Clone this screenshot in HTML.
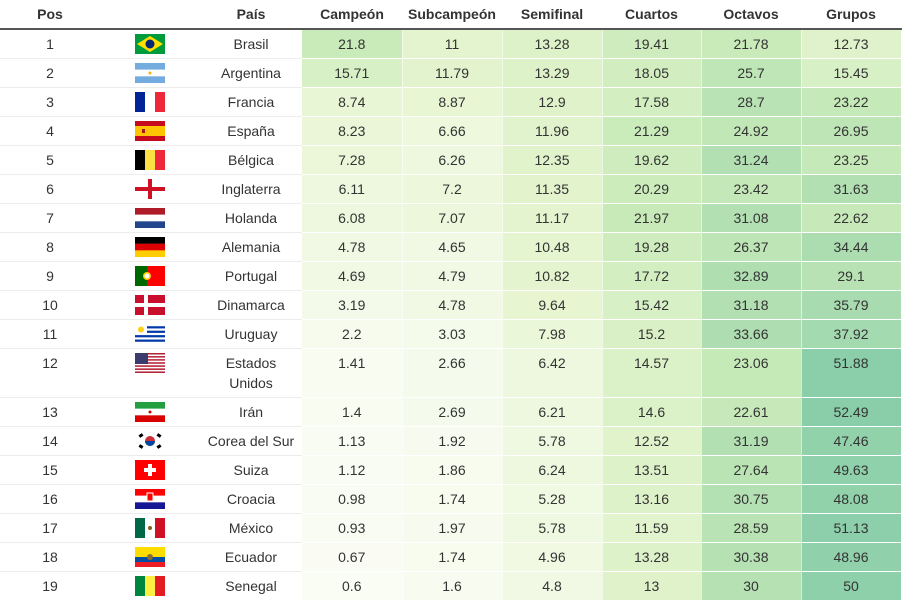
<!DOCTYPE html>
<html><head><meta charset="utf-8">
<style>
body{margin:0;background:#fff;font-family:"Liberation Sans",Arial,sans-serif;color:#333;font-size:14px;overflow:hidden;}
table{border-collapse:collapse;width:901px;table-layout:fixed;}
th{font-weight:bold;height:28px;padding:0;border-bottom:2px solid #555;text-align:center;vertical-align:middle;}
td{text-align:center;vertical-align:top;padding:4px 2px 4px;line-height:20px;border-top:1px solid #ececec;}
td.c{border-top:1px solid #fff;border-right:1px solid rgba(255,255,255,0.6);}
td.f{padding:4px 0 0;line-height:0;}
svg.flag{display:inline-block;}
</style></head><body>
<table>
<colgroup><col style="width:100px"><col style="width:100px"><col style="width:102px"><col style="width:100px"><col style="width:100px"><col style="width:100px"><col style="width:99px"><col style="width:100px"><col style="width:100px"></colgroup>
<thead><tr>
<th>Pos</th>
<th></th>
<th>País</th>
<th>Campeón</th>
<th>Subcampeón</th>
<th>Semifinal</th>
<th>Cuartos</th>
<th>Octavos</th>
<th>Grupos</th>
</tr></thead>
<tbody id="tb"></tbody>
</table>
<script>
const countries=["Brasil","Argentina","Francia","España","Bélgica","Inglaterra","Holanda","Alemania","Portugal","Dinamarca","Uruguay","Estados Unidos","Irán","Corea del Sur","Suiza","Croacia","México","Ecuador","Senegal"];
const flagCodes=["br","ar","fr","es","be","en","nl","de","pt","dk","uy","us","ir","kr","ch","hr","mx","ec","sn"];
const campeon=[21.8,15.71,8.74,8.23,7.28,6.11,6.08,4.78,4.69,3.19,2.2,1.41,1.4,1.13,1.12,0.98,0.93,0.67,0.6];
const subcampeon=[11,11.79,8.87,6.66,6.26,7.2,7.07,4.65,4.79,4.78,3.03,2.66,2.69,1.92,1.86,1.74,1.97,1.74,1.6];
const semifinal=[13.28,13.29,12.9,11.96,12.35,11.35,11.17,10.48,10.82,9.64,7.98,6.42,6.21,5.78,6.24,5.28,5.78,4.96,4.8];
const cuartos=[19.41,18.05,17.58,21.29,19.62,20.29,21.97,19.28,17.72,15.42,15.2,14.57,14.6,12.52,13.51,13.16,11.59,13.28,13];
const octavos=[21.78,25.7,28.7,24.92,31.24,23.42,31.08,26.37,32.89,31.18,33.66,23.06,22.61,31.19,27.64,30.75,28.59,30.38,30];
const grupos=[12.73,15.45,23.22,26.95,23.25,31.63,22.62,34.44,29.1,35.79,37.92,51.88,52.49,47.46,49.63,48.08,51.13,48.96,50];
const cols=[["campeon",campeon],["subcampeon",subcampeon],["semifinal",semifinal],["cuartos",cuartos],["octavos",octavos],["grupos",grupos]];
const stops=[[0,[251,253,246]],[10,[230,245,208]],[22,[200,234,185]],[35,[170,220,176]],[53,[136,206,169]]];
function color(v){
  for(let i=1;i<stops.length;i++){
    if(v<=stops[i][0]||i==stops.length-1){
      const a=stops[i-1],b=stops[i];let t=(v-a[0])/(b[0]-a[0]);t=Math.max(0,Math.min(1,t));
      return 'rgb('+a[1].map((c,k)=>Math.round(c+(b[1][k]-c)*t)).join(',')+')';
    }
  }
}
function stripesH(cs){const h=20/cs.length;return cs.map((c,i)=>`<rect y="${i*h}" width="30" height="${h+0.2}" fill="${c}"/>`).join('');}
function stripesV(cs){const w=30/cs.length;return cs.map((c,i)=>`<rect x="${i*w}" width="${w+0.2}" height="20" fill="${c}"/>`).join('');}
function flag(c){
  let s='';
  switch(c){
    case 'br':s='<rect width="30" height="20" fill="#009b3a"/><polygon points="15,2 28,10 15,18 2,10" fill="#fedf00"/><circle cx="15" cy="10" r="4.5" fill="#002776"/>';break;
    case 'ar':s=stripesH(['#74acdf','#fff','#74acdf'])+'<circle cx="15" cy="10" r="1.5" fill="#f6b40e"/>';break;
    case 'fr':s=stripesV(['#002395','#fff','#ed2939']);break;
    case 'es':s='<rect width="30" height="20" fill="#c60b1e"/><rect y="5" width="30" height="10" fill="#ffc400"/><rect x="7" y="8" width="3" height="4" fill="#ad1519"/>';break;
    case 'be':s=stripesV(['#000','#fae042','#ed2939']);break;
    case 'en':s='<rect width="30" height="20" fill="#fff"/><rect x="13" width="4" height="20" fill="#ce1124"/><rect y="8" width="30" height="4" fill="#ce1124"/>';break;
    case 'nl':s=stripesH(['#ae1c28','#fff','#21468b']);break;
    case 'de':s=stripesH(['#000','#dd0000','#ffce00']);break;
    case 'pt':s='<rect width="30" height="20" fill="#ff0000"/><rect width="12" height="20" fill="#006600"/><circle cx="12" cy="10" r="4" fill="#ffcc00"/><circle cx="12" cy="10" r="2.5" fill="#fff"/>';break;
    case 'dk':s='<rect width="30" height="20" fill="#c8102e"/><rect x="9" width="4" height="20" fill="#fff"/><rect y="8" width="30" height="4" fill="#fff"/>';break;
    case 'uy':s=stripesH(['#fff','#0038a8','#fff','#0038a8','#fff','#0038a8','#fff','#0038a8','#fff'])+'<rect width="12" height="11" fill="#fff"/><circle cx="6" cy="5.5" r="3" fill="#fcd116"/>';break;
    case 'us':s=stripesH(['#b22234','#fff','#b22234','#fff','#b22234','#fff','#b22234','#fff','#b22234','#fff','#b22234','#fff','#b22234'])+'<rect width="13" height="11" fill="#3c3b6e"/>';break;
    case 'ir':s=stripesH(['#239f40','#fff','#da0000'])+'<circle cx="15" cy="10" r="1.5" fill="#da0000"/>';break;
    case 'kr':s='<rect width="30" height="20" fill="#fff"/><circle cx="15" cy="10" r="5" fill="#cd2e3a"/><path d="M10,10 a5,5 0 0,0 10,0 z" fill="#0047a0"/><rect x="4" y="3" width="4" height="3" fill="#000" transform="rotate(-33 6 4.5)"/><rect x="22" y="3" width="4" height="3" fill="#000" transform="rotate(33 24 4.5)"/><rect x="4" y="14" width="4" height="3" fill="#000" transform="rotate(33 6 15.5)"/><rect x="22" y="14" width="4" height="3" fill="#000" transform="rotate(-33 24 15.5)"/>';break;
    case 'ch':s='<rect width="30" height="20" fill="#ff0000"/><rect x="13" y="4" width="4" height="12" fill="#fff"/><rect x="9" y="8" width="12" height="4" fill="#fff"/>';break;
    case 'hr':s=stripesH(['#ff0000','#fff','#171796'])+'<rect x="12" y="4" width="6" height="8" fill="#ff0000" stroke="#fff" stroke-width="1"/>';break;
    case 'mx':s=stripesV(['#006847','#fff','#ce1126'])+'<circle cx="15" cy="10" r="2" fill="#8b5a2b"/>';break;
    case 'ec':s='<rect width="30" height="20" fill="#ffdd00"/><rect y="10" width="30" height="5" fill="#034ea2"/><rect y="15" width="30" height="5" fill="#ed1c24"/><circle cx="15" cy="10" r="3" fill="#8b6d2b"/>';break;
    case 'sn':s=stripesV(['#00853f','#fdef42','#e31b23']);break;
  }
  return `<svg class="flag" width="30" height="20" viewBox="0 0 30 20">${s}</svg>`;
}
const tb=document.getElementById('tb');
countries.forEach((name,i)=>{
  const tr=document.createElement('tr');
  
  
  const tdp=document.createElement('td');tdp.textContent=i+1;
  
  
  tr.appendChild(tdp);
  const tdf=document.createElement('td');tdf.className='f';tdf.innerHTML=flag(flagCodes[i]);
  
  
  tr.appendChild(tdf);
  const tdn=document.createElement('td');tdn.textContent=name;
  if(name==="Corea del Sur")tdn.style.whiteSpace='nowrap';
  
  
  tr.appendChild(tdn);
  cols.forEach(([key,arr])=>{
    const td=document.createElement('td');td.className='c';
    td.textContent=arr[i];td.style.background=color(arr[i]);
    
    
    tr.appendChild(td);
  });
  tb.appendChild(tr);
});
</script>
</body></html>
